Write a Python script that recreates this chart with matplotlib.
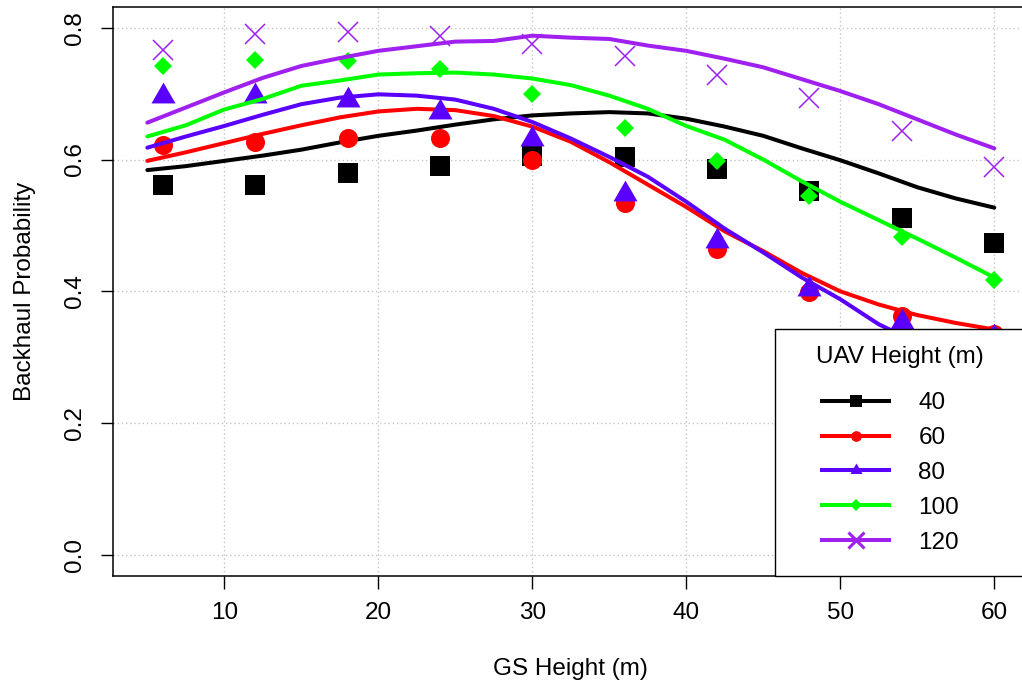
import numpy as np
import matplotlib
matplotlib.use("Agg")
import matplotlib.pyplot as plt
from matplotlib.lines import Line2D
from matplotlib.path import Path
from matplotlib.patches import Rectangle

plt.rcParams['font.family'] = ['Liberation Sans', 'DejaVu Sans']

# GS heights where the fitted curves are evaluated
gs_fit = [5, 7.5, 10, 12.5, 15, 17.5, 20, 22.5, 25, 27.5, 30, 32.5, 35,
          37.5, 40, 42.5, 45, 47.5, 50, 52.5, 55, 57.5, 60]
# GS heights of the simulated points
gs_sim = [6, 12, 18, 24, 30, 36, 42, 48, 54, 60]

uav_heights = ['40', '60', '80', '100', '120']

fit40 = [0.584, 0.590, 0.598, 0.606, 0.615, 0.626, 0.636, 0.644, 0.653, 0.661, 0.667, 0.670,
         0.672, 0.670, 0.662, 0.650, 0.636, 0.617, 0.599, 0.579, 0.558, 0.541, 0.527]
fit60 = [0.598, 0.611, 0.625, 0.639, 0.652, 0.664, 0.673, 0.677, 0.675, 0.666, 0.650, 0.627,
         0.596, 0.562, 0.528, 0.491, 0.461, 0.428, 0.400, 0.380, 0.364, 0.352, 0.342]
fit80 = [0.618, 0.635, 0.651, 0.668, 0.684, 0.694, 0.699, 0.697, 0.691, 0.677, 0.657, 0.632,
         0.604, 0.574, 0.536, 0.495, 0.459, 0.421, 0.388, 0.350, 0.322, 0.300, 0.280]
fit100 = [0.635, 0.652, 0.676, 0.692, 0.712, 0.720, 0.729, 0.731, 0.732, 0.729, 0.723, 0.713,
          0.697, 0.677, 0.651, 0.630, 0.600, 0.567, 0.536, 0.508, 0.480, 0.451, 0.421]
fit120 = [0.656, 0.679, 0.702, 0.724, 0.742, 0.754, 0.765, 0.772, 0.779, 0.780, 0.788, 0.785,
          0.783, 0.773, 0.765, 0.753, 0.740, 0.722, 0.704, 0.684, 0.661, 0.638, 0.617]

sim40 = [0.562, 0.562, 0.580, 0.590, 0.606, 0.604, 0.585, 0.553, 0.511, 0.473]
sim60 = [0.622, 0.627, 0.632, 0.633, 0.600, 0.534, 0.464, 0.399, 0.363, 0.336]
sim80 = [0.697, 0.697, 0.690, 0.672, 0.631, 0.547, 0.476, 0.404, 0.354, 0.330]
sim100 = [0.742, 0.751, 0.749, 0.738, 0.699, 0.648, 0.598, 0.544, 0.482, 0.417]
sim120 = [0.767, 0.790, 0.794, 0.788, 0.775, 0.757, 0.729, 0.693, 0.644, 0.589]

fits = [fit40, fit60, fit80, fit100, fit120]
sims = [sim40, sim60, sim80, sim100, sim120]

colors = ['black', '#ff0000', '#5a00ff', '#00ff00', '#a020f0']

# triangle centred on its centroid (like R's pch 17)
tri = Path([(0, 1), (-0.866, -0.5), (0.866, -0.5), (0, 1)],
           [Path.MOVETO, Path.LINETO, Path.LINETO, Path.CLOSEPOLY])
markers = ['s', 'o', tri, 'D', 'x']
msize = [13.9, 13.7, 20, 9.5, 14.4]
mew = [0, 0, 0, 0, 1.1]
leg_msize = [8.9, 7.7, 10, 6.5, 11]
leg_mew = [0, 0, 0, 0, 2.2]

fs = 17.5

fig = plt.figure(figsize=(10.22, 6.83), dpi=100)
ax = fig.add_axes([0.111, 0.1567, 0.895, 0.8335])

ax.set_xlim(2.8, 62.2)
ax.set_ylim(-0.032, 0.832)
ax.set_xticks([10, 20, 30, 40, 50, 60])
ax.set_yticks([0.0, 0.2, 0.4, 0.6, 0.8])
ax.grid(True, color='#c4c4c4', linestyle=(0, (1, 2)), linewidth=1.0)
ax.set_axisbelow(True)

for i in range(5):
    z = 3 + i
    ax.plot(gs_sim, sims[i], linestyle='none', marker=markers[i], markersize=msize[i],
            color=colors[i], markeredgewidth=mew[i], zorder=z)
    ax.plot(gs_fit, fits[i], color=colors[i], linewidth=2.9, zorder=z + 0.5,
            solid_capstyle='round', solid_joinstyle='round')

for s in ax.spines.values():
    s.set_linewidth(1.1)

ax.tick_params(direction='out', length=9, width=1.0, labelsize=fs)
ax.tick_params(axis='x', pad=10)
ax.tick_params(axis='y', pad=11)
ax.set_yticklabels(['0.0', '0.2', '0.4', '0.6', '0.8'], rotation=90, va='center')

ax.set_xlabel('GS Height (m)', fontsize=fs, labelpad=24)
ax.set_ylabel('Backhaul Probability', fontsize=fs, labelpad=20)

# legend box in the bottom-right corner
ax.add_patch(Rectangle((0.7234, 0.0), 0.2766, 0.4339, transform=ax.transAxes,
                       facecolor='white', edgecolor='black', linewidth=1.0,
                       zorder=10, clip_on=False))
ax.text(0.860, 0.3847, 'UAV Height (m)', transform=ax.transAxes, fontsize=fs,
        ha='center', va='center', zorder=11)

handles = []
for i in range(5):
    handles.append(Line2D([], [], color=colors[i], linewidth=2.9, marker=markers[i],
                          markersize=leg_msize[i], markeredgewidth=leg_mew[i]))
leg = ax.legend(handles, uav_heights, loc='center left', bbox_to_anchor=(0.7617, 0.1809),
                frameon=False, fontsize=fs, borderpad=0, handlelength=2.75,
                handletextpad=1.2, labelspacing=0.53, numpoints=1)
leg.set_zorder(12)

fig.savefig('out.png', dpi=100)
